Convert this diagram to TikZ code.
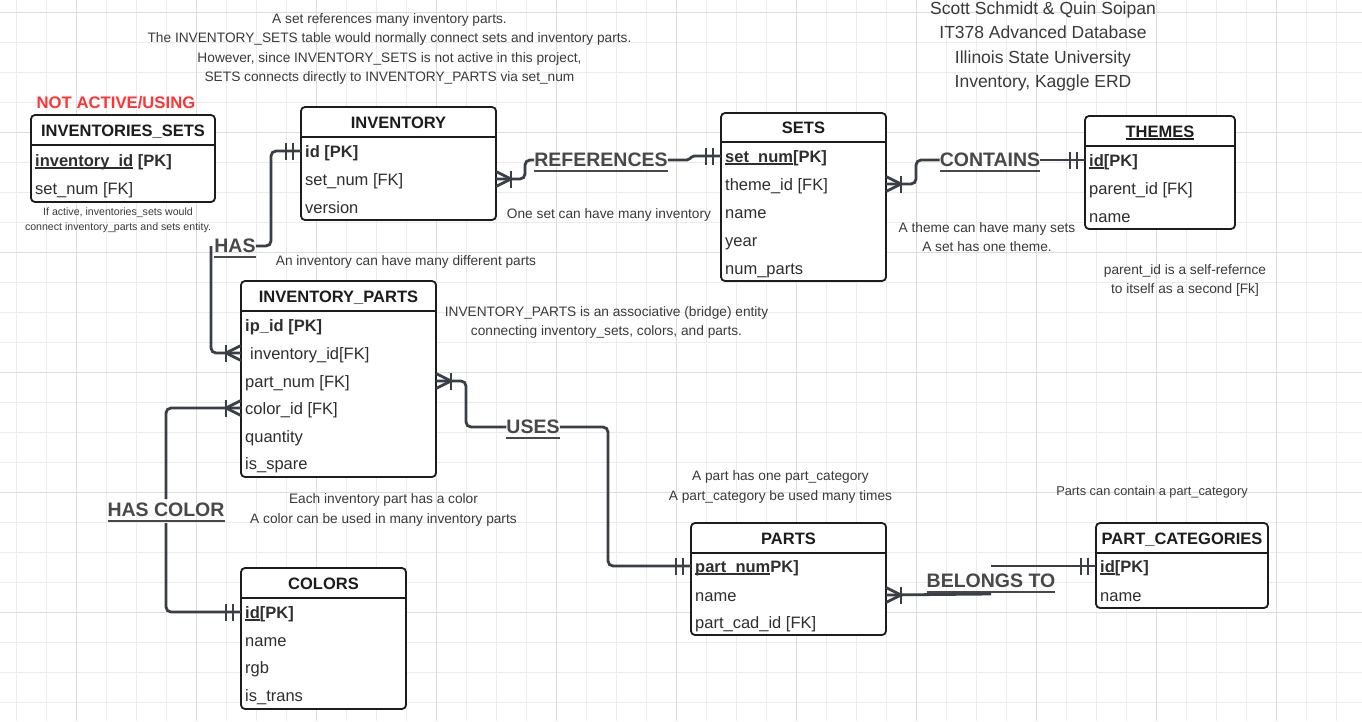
\documentclass[tikz,border=0pt]{standalone}
\usepackage{fontspec}
\setmainfont{Liberation Sans}
\definecolor{conncol}{HTML}{3A3F47}
\definecolor{entcol}{HTML}{1C1C1C}
\definecolor{fldcol}{HTML}{2E2E2E}
\definecolor{relcol}{HTML}{484848}
\definecolor{notecol}{HTML}{3A3A3A}
\definecolor{gridl}{HTML}{ECECEC}
\definecolor{gridd}{HTML}{DDDDDD}
\definecolor{warnred}{HTML}{FF3535}
\newcommand{\myEf}{\fontsize{16.5}{20}\selectfont}
\newcommand{\myLf}{\fontsize{19.5}{24}\selectfont}
\newcommand{\myul}[1]{\leavevmode\setbox0=\hbox{#1}\rlap{\rule[-2.8pt]{\wd0}{1.4pt}}\box0\relax}
\newcommand{\myrul}[1]{\leavevmode\setbox0=\hbox{#1}\rlap{\rule[-5pt]{\wd0}{2.2pt}}\box0\relax}
\tikzset{
  conn/.style={draw=conncol, line width=2.8pt, rounded corners=5pt},
  foot/.style={draw=conncol, line width=2.8pt},
  entbox/.style={draw=entcol, line width=1.8pt, rounded corners=4pt, fill=white, inner sep=0pt, outer sep=0pt, anchor=north west},
  sepl/.style={draw=entcol, line width=1.6pt},
  ttl/.style={font=\bfseries\myEf, text=entcol, inner sep=0pt, text height=12pt, text depth=0pt},
  fld/.style={font=\myEf, text=fldcol, inner sep=0pt, anchor=west, text height=12pt, text depth=0pt},
  rel/.style={font=\bfseries\myLf, text=relcol, inner xsep=0pt, inner ysep=4pt, text height=13.6pt, text depth=0pt},
  note/.style={text=notecol, align=center, inner sep=0pt},
  pics/many/.style={code={\draw[foot] (0,-7.5) -- (15,0) -- (0,7.5); \draw[foot] (15,-8.5) -- (15,8.5);}},
  pics/one/.style={code={\draw[foot] (8,-8.5) -- (8,8.5) (15,-8.5) -- (15,8.5);}},
}
\begin{document}
\begin{tikzpicture}[x=1pt,y=-1pt]
\useasboundingbox (0,0) rectangle (1362,721);
\fill[white] (0,0) rectangle (1362,721);
% grid
\foreach \gx in {16.7,46.7,...,1362} \draw[gridl, line width=1pt] (\gx,0) -- (\gx,721);
\foreach \gy in {12.3,42.3,...,721} \draw[gridl, line width=1pt] (0,\gy) -- (1362,\gy);
\foreach \gx in {76.7,196.7,...,1362} \draw[gridd, line width=1pt] (\gx,0) -- (\gx,721);
\foreach \gy in {12.3,132.3,...,721} \draw[gridd, line width=1pt] (0,\gy) -- (1362,\gy);

% ---------- notes ----------
\node[note, font={\fontsize{13.7}{19.2}\selectfont}] (ntop) at (389.5,49) {A set references many inventory parts.\\The INVENTORY\_SETS table would normally connect sets and inventory parts.\\However, since INVENTORY\_SETS is not active in this project,\\SETS connects directly to INVENTORY\_PARTS via set\_num};
\node[note, font={\fontsize{17.5}{24.1}\selectfont}] (nauth) at (1043,46.5) {Scott Schmidt \& Quin Soipan\\IT378 Advanced Database\\Illinois State University\\Inventory, Kaggle ERD};
\node[inner sep=0pt, font={\bfseries\fontsize{16.7}{20}\selectfont}, text=warnred] (nwarn) at (116,103) {NOT ACTIVE/USING};
\node[note, font={\fontsize{10.6}{15}\selectfont}] (nifact) at (118,220) {If active, inventories\_sets would\\connect inventory\_parts and sets entity.};
\node[note, font={\fontsize{13.7}{19}\selectfont}] (nref) at (609,215) {One set can have many inventory};
\node[note, font={\fontsize{13.7}{19}\selectfont}] (nhas) at (406,262) {An inventory can have many different parts};
\node[note, font={\fontsize{13.7}{19}\selectfont}] (ncon) at (987,237) {A theme can have many sets\\A set has one theme.};
\node[note, font={\fontsize{13.7}{19}\selectfont}] (nparent) at (1185,280) {parent\_id is a self-refernce\\to itself as a second [Fk]};
\node[note, font={\fontsize{13.7}{18.5}\selectfont}] (nbridge) at (606.5,322.5) {INVENTORY\_PARTS is an associative (bridge) entity\\connecting inventory\_sets, colors, and parts.};
\node[note, font={\fontsize{13.7}{20}\selectfont}] (ncolor) at (383.5,509.5) {Each inventory part has a color\\A color can be used in many inventory parts};
\node[note, font={\fontsize{13.7}{20}\selectfont}] (npart) at (780.5,486.5) {A part has one part\_category\\A part\_category be used many times};
\node[note, font={\fontsize{12.8}{18}\selectfont}] (npc) at (1152,492) {Parts can contain a part\_category};

% ---------- INVENTORIES_SETS ----------
\node[entbox, minimum width=184, minimum height=87] (invs) at (31,115) {};
\draw[sepl] (31,145) -- (215,145);
\node[ttl] (invs-t) at (123,130) {INVENTORIES\_SETS};
\node[fld] (invs-id) at (35,160) {\textbf{\myul{inventory\_id} [PK]}};
\node[fld] (invs-set) at (35,188) {set\_num [FK]};

% ---------- INVENTORY ----------
\node[entbox, minimum width=195, minimum height=113] (inv) at (301,107) {};
\draw[sepl] (301,137) -- (496,137);
\node[ttl] (inv-t) at (398.5,122) {INVENTORY};
\node[fld] (inv-id) at (305,151) {\textbf{id [PK]}};
\node[fld] (inv-setnum) at (305,179) {set\_num [FK]};
\node[fld] (inv-ver) at (305,207) {version};

% ---------- SETS ----------
\node[entbox, minimum width=165, minimum height=168] (sets) at (721,113) {};
\draw[sepl] (721,142) -- (886,142);
\node[ttl] (sets-t) at (803.5,127) {SETS};
\node[fld] (sets-setnum) at (725,156) {\textbf{\myul{set\_num}[PK]}};
\node[fld] (sets-theme) at (725,184) {theme\_id [FK]};
\node[fld] (sets-name) at (725,212) {name};
\node[fld] (sets-year) at (725,240) {year};
\node[fld] (sets-np) at (725,268) {num\_parts};

% ---------- THEMES ----------
\node[entbox, minimum width=150, minimum height=113] (thm) at (1085,116) {};
\draw[sepl] (1085,146) -- (1235,146);
\node[ttl] (thm-t) at (1160,131) {\myul{THEMES}};
\node[fld] (thm-id) at (1089,160) {\textbf{\myul{id}[PK]}};
\node[fld] (thm-par) at (1089,188) {parent\_id [FK]};
\node[fld] (thm-name) at (1089,216) {name};

% ---------- INVENTORY_PARTS ----------
\node[entbox, minimum width=195, minimum height=196] (ip) at (241,281) {};
\draw[sepl] (241,311) -- (436,311);
\node[ttl] (ip-t) at (338.5,296) {INVENTORY\_PARTS};
\node[fld] (ip-id) at (245,325) {\textbf{ip\_id [PK]}};
\node[fld] (ip-invid) at (250,353) {inventory\_id[FK]};
\node[fld] (ip-partnum) at (245,381) {part\_num [FK]};
\node[fld] (ip-color) at (245,408) {color\_id [FK]};
\node[fld] (ip-qty) at (245,436) {quantity};
\node[fld] (ip-spare) at (245,463) {is\_spare};

% ---------- COLORS ----------
\node[entbox, minimum width=165, minimum height=141] (col) at (241,568) {};
\draw[sepl] (241,598) -- (406,598);
\node[ttl] (col-t) at (323.5,583) {COLORS};
\node[fld] (col-id) at (245,612) {\textbf{\myul{id}[PK]}};
\node[fld] (col-name) at (245,640) {name};
\node[fld] (col-rgb) at (245,667) {rgb};
\node[fld] (col-trans) at (245,695) {is\_trans};

% ---------- PARTS ----------
\node[entbox, minimum width=195, minimum height=112] (prt) at (691,523) {};
\draw[sepl] (691,553) -- (886,553);
\node[ttl] (prt-t) at (788.5,538) {PARTS};
\node[fld] (prt-pnum) at (695,566) {\textbf{\myul{part\_num}PK]}};
\node[fld] (prt-name) at (695,595) {name};
\node[fld] (prt-cat) at (695,622) {part\_cad\_id [FK]};

% ---------- PART_CATEGORIES ----------
\node[entbox, minimum width=172, minimum height=85] (pc) at (1096,523) {};
\draw[sepl] (1096,553) -- (1268,553);
\node[ttl] (pc-t) at (1182,538) {PART\_CATEGORIES};
\node[fld] (pc-id) at (1100,566) {\textbf{\myul{id}[PK]}};
\node[fld] (pc-name) at (1100,595) {name};

% ---------- relationship labels ----------
\node[rel] (lref) at (601,160) {\myrul{REFERENCES}};
\node[rel] (lcon) at (990,160) {\myrul{CONTAINS}};
\node[rel] (lhas) at (235,246) {\myrul{HAS}};
\node[rel] (luses) at (533,427) {\myrul{USES}};
\node[rel] (lhc) at (166,510) {\myrul{HAS COLOR}};
\node[rel] (lbt) at (991,581) {\myrul{BELONGS TO}};
\coordinate (hasL) at (211,246);
\coordinate (btA) at (991,594);
\coordinate (btB) at (991,566);

% ---------- connectors ----------
% REFERENCES
\draw[conn] (inv.east |- inv-setnum) -- (525,179) -- (525,160) -- (lref.west);
\draw[conn, rounded corners=2pt] (lref.east) -- (689,160) -- (692,156) -- (sets.west |- sets-setnum);
\pic at (inv.east |- inv-setnum) {many};
\pic[rotate=180] at (sets.west |- sets-setnum) {one};
% CONTAINS
\draw[conn] (sets.east |- sets-theme) -- (916,184) -- (916,160) -- (lcon.west);
\draw[conn] (lcon.east) -- (thm.west |- thm-id);
\pic at (sets.east |- sets-theme) {many};
\pic[rotate=180] at (thm.west |- thm-id) {one};
% HAS
\draw[conn] (inv.west |- inv-id) -- (271,151) -- (271,246) -- (lhas.east);
\draw[conn] (hasL) -- (211,353) -- (ip.west |- ip-invid);
\pic[rotate=180] at (inv.west |- inv-id) {one};
\pic[rotate=180] at (ip.west |- ip-invid) {many};
% USES
\draw[conn] (ip.east |- ip-partnum) -- (466,381) -- (466,427) -- (luses.west);
\draw[conn] (luses.east) -- (608,427) -- (608,566) -- (prt.west |- prt-pnum);
\pic at (ip.east |- ip-partnum) {many};
\pic[rotate=180] at (prt.west |- prt-pnum) {one};
% HAS COLOR
\draw[conn] (ip.west |- ip-color) -- (166,408) -- (lhc.north);
\draw[conn] ([yshift=-2pt]lhc.south) -- (166,612) -- (col.west |- col-id);
\pic[rotate=180] at (ip.west |- ip-color) {many};
\pic[rotate=180] at (col.west |- col-id) {one};
% BELONGS TO
\draw[conn] (prt.east |- prt-name) -- (btA);
\draw[conn] (btB) -- (pc.west |- pc-id);
\pic at (prt.east |- prt-name) {many};
\pic[rotate=180] at (pc.west |- pc-id) {one};
\end{tikzpicture}
\end{document}
